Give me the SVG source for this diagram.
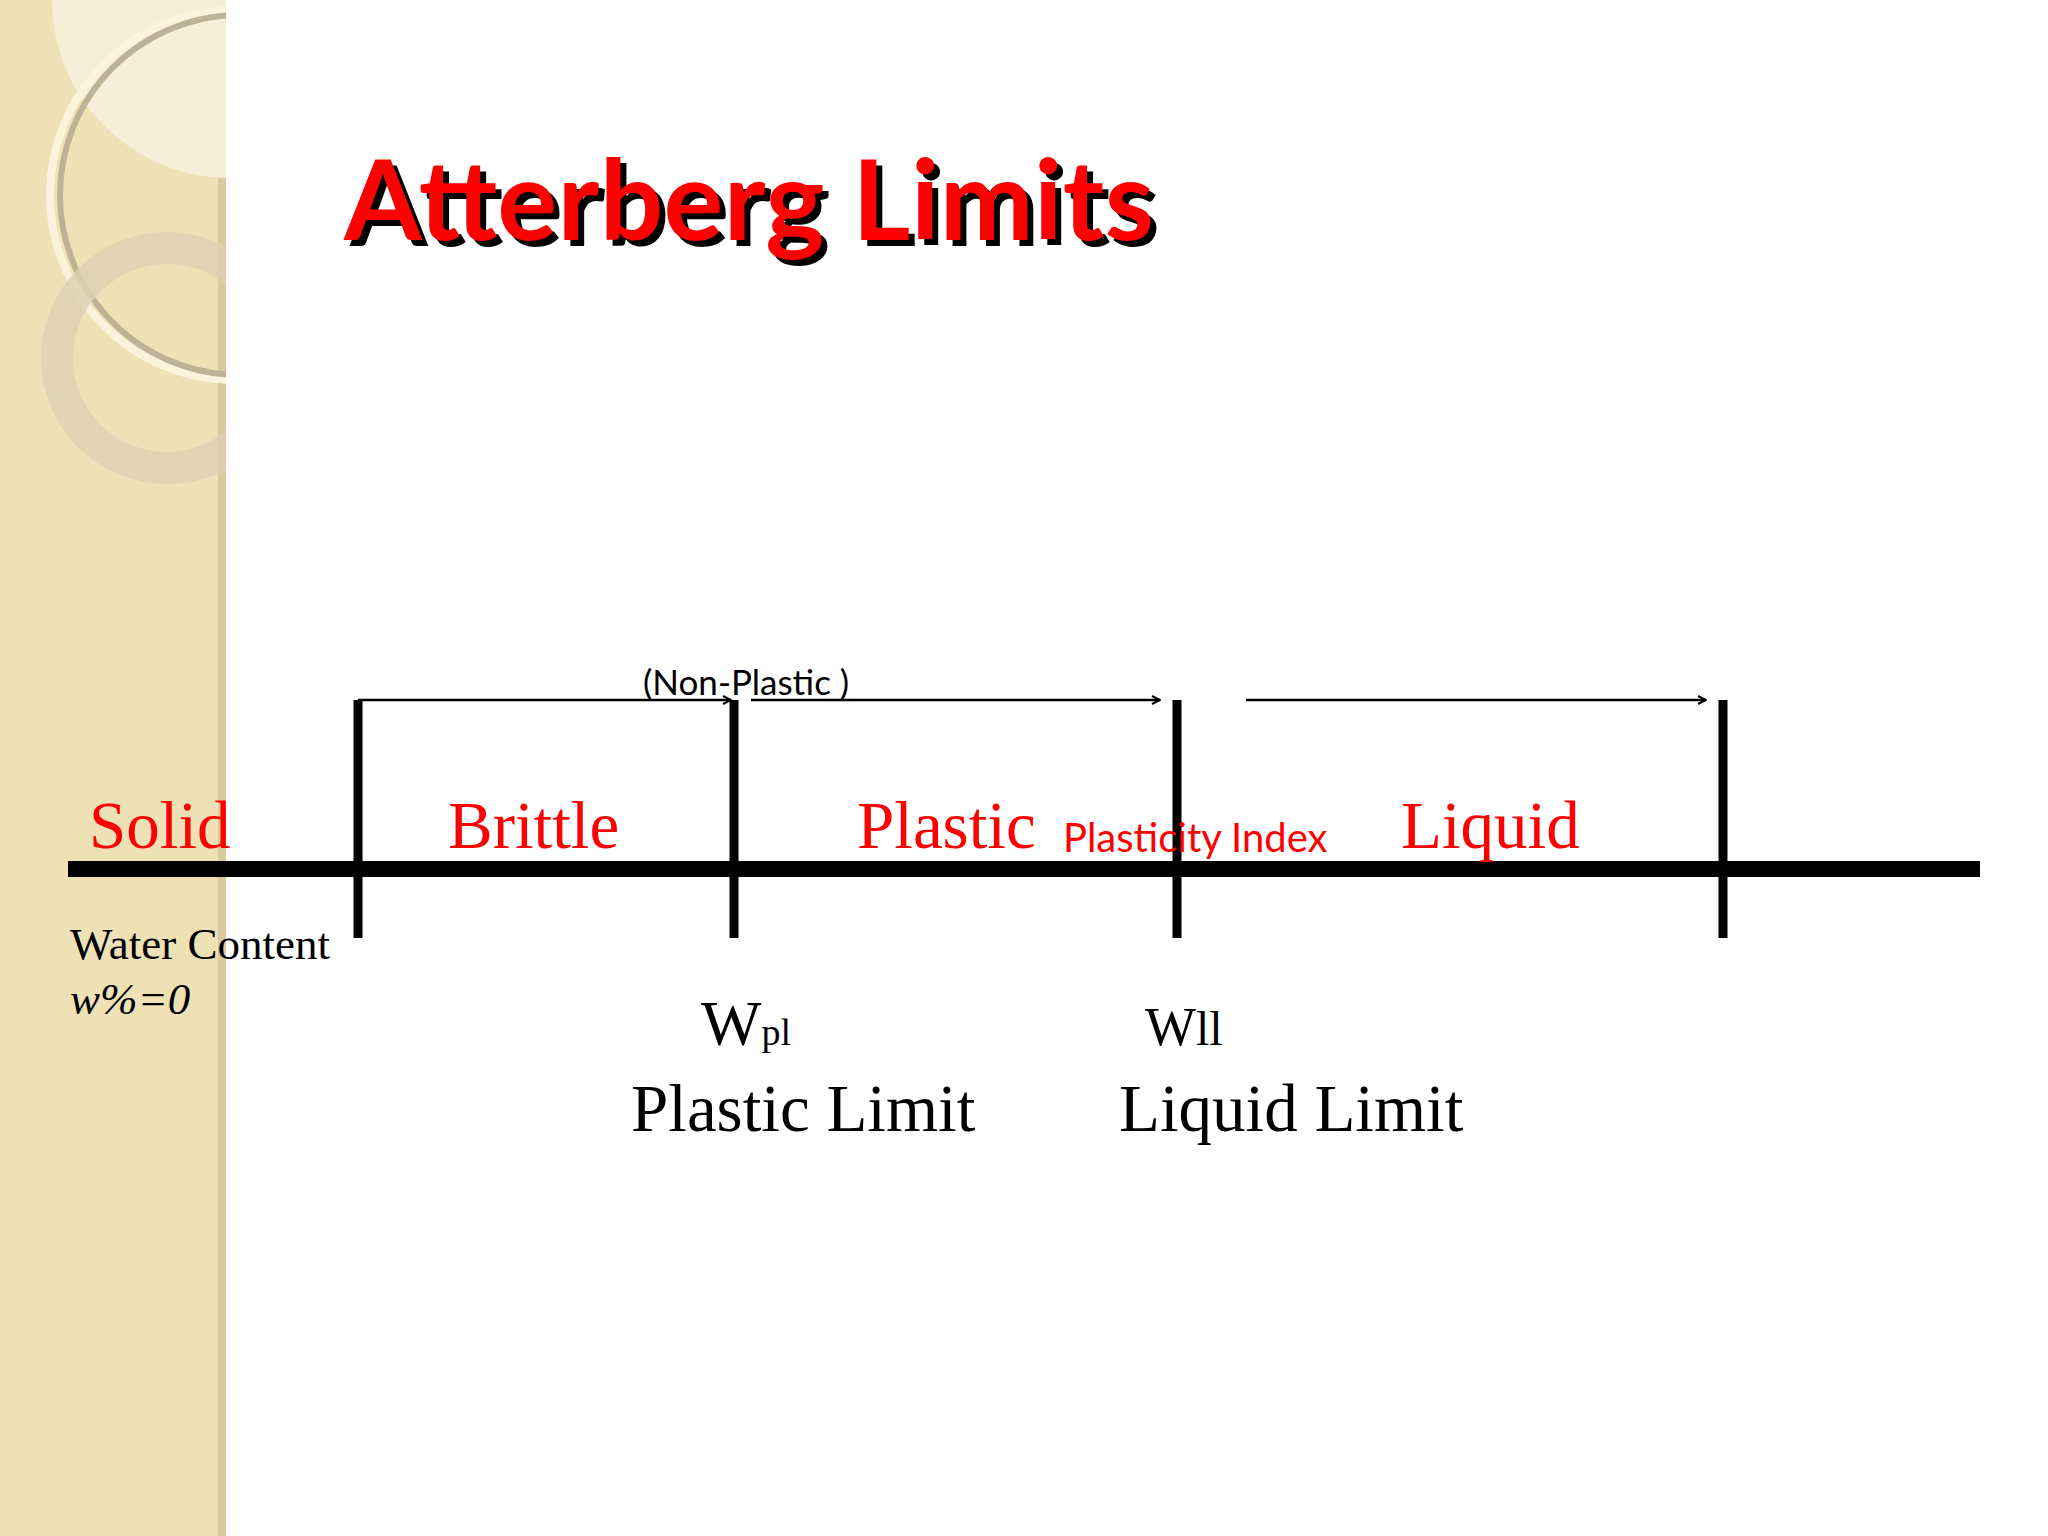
<svg xmlns="http://www.w3.org/2000/svg" width="2048" height="1536" viewBox="0 0 2048 1536">
<style>
.bar{stroke:#000;stroke-width:9}
.arr{stroke:#000;stroke-width:2.5;fill:none;marker-end:url(#ah)}
.red{fill:#f00;font-family:"Liberation Serif",serif;font-size:67px}
.blk{fill:#000;font-family:"Liberation Serif",serif}
.sans{font-family:Lato,"Open Sans",sans-serif}
</style>
<defs>
<marker id="ah" markerWidth="10" markerHeight="10" refX="9" refY="5" orient="auto" markerUnits="userSpaceOnUse"><path d="M1,1 L9,5 L1,9" fill="none" stroke="#000" stroke-width="2"/></marker>
<clipPath id="sb"><rect x="0" y="0" width="226" height="1536"/></clipPath>
</defs>
<rect width="2048" height="1536" fill="#fff"/>
<g id="sidebar" clip-path="url(#sb)">
<rect x="0" y="0" width="226" height="1536" fill="#efe1b6"/>
<rect x="218" y="0" width="8" height="1536" fill="#d9caa0"/>
<circle cx="230" cy="0" r="178" fill="#f6eed6"/>
<circle cx="235" cy="195" r="185" fill="none" stroke="#fbf3dc" stroke-width="8"/>
<circle cx="240" cy="195" r="180" fill="none" stroke="#bdb196" stroke-width="6"/>
<circle cx="167" cy="358" r="110" fill="none" stroke="#ddd1b4" stroke-width="32" opacity="0.85"/>
</g>
<g id="title">
<text x="350" y="246" class="sans" font-size="112" font-weight="bold" fill="#000" textLength="810">Atterberg Limits</text>
<text x="344" y="240" class="sans" font-size="112" font-weight="bold" fill="#f00" textLength="810">Atterberg Limits</text>
</g>
<g id="axis">
<line x1="68" y1="869" x2="1980" y2="869" stroke="#000" stroke-width="16"/>
<line class="bar" x1="358" y1="700" x2="358" y2="938"/>
<line class="bar" x1="734" y1="700" x2="734" y2="938"/>
<line class="bar" x1="1177" y1="700" x2="1177" y2="938"/>
<line class="bar" x1="1723" y1="700" x2="1723" y2="938"/>
</g>
<g id="connectors">
<path class="arr" d="M358,700 H731"/>
<path class="arr" d="M751,700 H1160"/>
<path class="arr" d="M1246,700 H1706"/>
</g>
<g id="labels">
<text x="643" y="695" class="sans" font-size="35" fill="#000">(Non-Plastic )</text>
<text x="89" y="848" class="red">Solid</text>
<text x="448" y="848" class="red">Brittle</text>
<text x="857" y="848" class="red">Plastic</text>
<text x="1401" y="848" class="red">Liquid</text>
<text x="1063" y="852" class="sans" font-size="40" fill="#f00">Plasticity Index</text>
<text x="70" y="959" class="blk" font-size="45">Water Content</text>
<text x="70" y="1014" class="blk" font-size="45" font-style="italic">w%=0</text>
<text x="701" y="1045" class="blk" font-size="64">W<tspan font-size="38">pl</tspan></text>
<text x="1145" y="1045" class="blk" font-size="54">W<tspan font-size="48">ll</tspan></text>
<text x="631" y="1131" class="blk" font-size="67">Plastic Limit</text>
<text x="1119" y="1131" class="blk" font-size="67">Liquid Limit</text>
</g>
</svg>
